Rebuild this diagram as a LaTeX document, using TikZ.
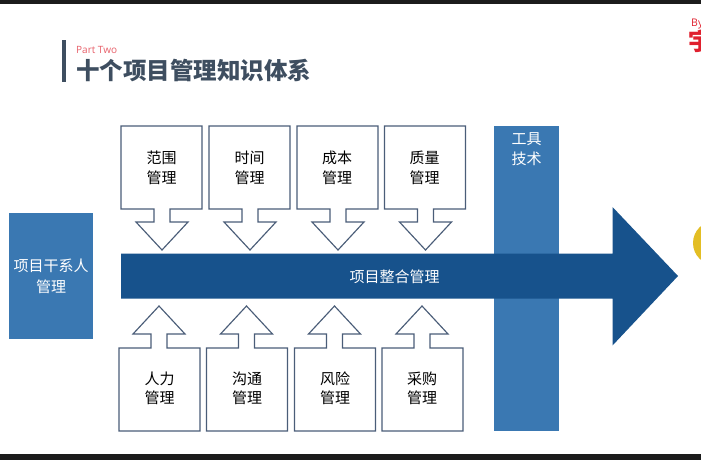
\documentclass[tikz,border=0pt]{standalone}
\usepackage{fontspec}
\setmainfont{Noto Sans CJK SC}
\newfontfamily\latinf{Open Sans}
\definecolor{darkbar}{HTML}{1C1C1C}
\definecolor{titleslate}{HTML}{3E4E60}
\definecolor{partred}{HTML}{E8606A}
\definecolor{boxedge}{HTML}{4A5D78}
\definecolor{midblue}{HTML}{3A78B2}
\definecolor{deepblue}{HTML}{17528C}
\definecolor{logored}{HTML}{E0202E}
\definecolor{goldc}{HTML}{E3BE24}
\newcommand{\downbox}[1]{%
  \draw[callout] (#1,126) -- ++(81,0) -- ++(0,83) -- ++(-32,0) -- ++(0,13) -- ++(18,0)
    -- ++(-26,28) -- ++(-26,-28) -- ++(18,0) -- ++(0,-13) -- ++(-33,0) -- cycle;
}
\newcommand{\upbox}[1]{%
  \draw[callout] (#1,431) -- ++(81,0) -- ++(0,-83) -- ++(-33,0) -- ++(0,-14) -- ++(18,0)
    -- ++(-26,-28) -- ++(-26,28) -- ++(18,0) -- ++(0,14) -- ++(-32,0) -- cycle;
}
\tikzset{
  callout/.style={draw=boxedge,line width=1.15pt,fill=white,line join=miter},
  boxtext/.style={align=center,font=\fontsize{15}{19.5}\selectfont,text=black,inner sep=0pt},
  whitetext/.style={align=center,font=\fontsize{15}{20.5}\selectfont,text=white,inner sep=0pt}
}
\begin{document}
\begin{tikzpicture}[x=1pt,y=-1pt]
\useasboundingbox (0,0) rectangle (701,460);
\clip (0,0) rectangle (701,460);
\fill[white] (0,0) rectangle (701,460);
\fill[darkbar] (0,0) rectangle (701,4);
\fill[darkbar] (0,454) rectangle (701,460);
% title
\fill[titleslate] (61.5,40.5) rectangle (66,82);
\node[anchor=west,inner sep=0pt,text=partred,font=\latinf\fontsize{10}{12}\selectfont] (part) at (76,49.5) {Part Two};
\node[anchor=west,inner sep=0pt,text=titleslate,font=\fontsize{23.5}{26}\selectfont\bfseries] (title) at (76,71) {十个项目管理知识体系};
% logo
\node[anchor=west,inner sep=0pt,text=logored,font=\latinf\fontsize{10.5}{12}\selectfont] (by) at (691,24) {By};
\node[anchor=west,inner sep=0pt,text=logored,font=\fontsize{24}{26}\selectfont\bfseries] (yu) at (688,41) {宇};
\fill[goldc] (715,243) circle (22);
% callouts
\downbox{121}
\downbox{209}
\downbox{297}
\downbox{384.5}
\upbox{119}
\upbox{206.5}
\upbox{294.5}
\upbox{382}
\node[boxtext] (t1) at (161.5,168) {范围\\管理};
\node[boxtext] (t2) at (249.5,168) {时间\\管理};
\node[boxtext] (t3) at (337,168) {成本\\管理};
\node[boxtext] (t4) at (424.5,168) {质量\\管理};
\node[boxtext] (b1) at (159.5,388.5) {人力\\管理};
\node[boxtext] (b2) at (247,388.5) {沟通\\管理};
\node[boxtext] (b3) at (335,388.5) {风险\\管理};
\node[boxtext] (b4) at (422,388.5) {采购\\管理};
% left box and tool bar
\fill[midblue] (9,213) rectangle (93,339);
\node[whitetext] (stake) at (51,276.5) {项目干系人\\管理};
\fill[midblue] (493.5,126) rectangle (559,431);
\node[whitetext] (tool) at (526.5,149) {工具\\技术};
% main arrow
\fill[deepblue] (121,253.5) -- (612.5,253.5) -- (612.5,207) -- (678,276) -- (612.5,345.5) -- (612.5,298.5) -- (121,298.5) -- cycle;
\node[whitetext] (main) at (394.5,277) {项目整合管理};
\end{tikzpicture}
\end{document}
